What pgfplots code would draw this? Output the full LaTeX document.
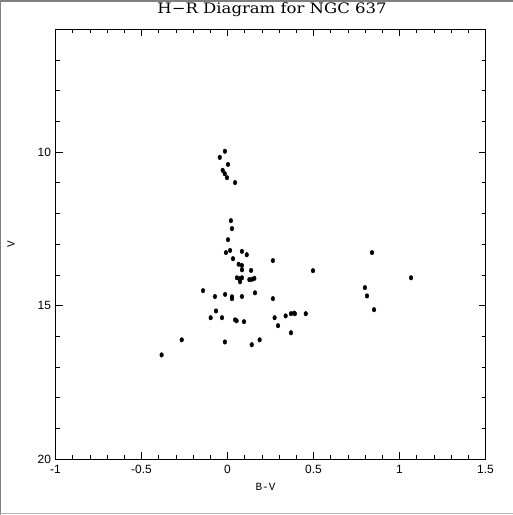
\documentclass[border=0pt]{standalone}
\usepackage{pgfplots}
\pgfplotsset{compat=1.18}
\usepackage{fontspec}
\newfontfamily\tickfont{Liberation Sans}
\newfontfamily\titlefont{DejaVu Serif}
\newfontfamily\labfont{Liberation Mono}
\begin{document}
\begin{tikzpicture}
\begin{axis}[name=ax, scale only axis, width=430bp, height=430bp,
  xmin=-1, xmax=1.5, ymin=6, ymax=20, y dir=reverse,
  xtick={-1,-0.5,0,0.5,1,1.5}, minor x tick num=4,
  ytick={10,15,20}, minor ytick={7,8,9,11,12,13,14,16,17,18,19},
  tick align=inside, major tick length=7bp, minor tick length=4bp,
  tick style={black, line width=0.8bp},
  axis line style={black, line width=1bp},
  /pgf/number format/assume math mode=true,
  ticklabel style={font=\tickfont\fontsize{12}{12}\selectfont},
  xticklabel style={yshift=-2bp},
  yticklabel style={xshift=-1bp},
  clip=false]
\addplot[only marks, mark=*, mark size=2.3pt, mark options={xscale=0.8, fill=black, draw=black}] coordinates {
(-0.015,9.97) (-0.045,10.17) (0.003,10.40) (-0.028,10.59) (-0.016,10.70)
(-0.003,10.83) (0.044,10.99) (0.020,12.23) (0.026,12.49) (0.003,12.85)
(-0.009,13.27) (0.015,13.20) (0.084,13.23) (0.112,13.34) (0.032,13.47)
(0.065,13.65) (0.084,13.69) (0.084,13.83) (0.137,13.85) (0.055,14.09)
(0.071,14.12) (0.084,14.09) (0.073,14.22) (0.127,14.15) (0.142,14.14)
(0.156,14.11) (0.160,14.58) (-0.142,14.51) (-0.073,14.70) (-0.014,14.63)
(0.026,14.71) (0.026,14.77) (0.084,14.70) (0.264,14.77) (-0.067,15.17)
(-0.098,15.39) (-0.032,15.39) (0.044,15.46) (0.053,15.49) (0.096,15.52)
(0.274,15.39) (0.294,15.65) (0.338,15.33) (0.369,15.26) (0.387,15.24)
(0.392,15.26) (0.455,15.26) (0.369,15.88) (-0.266,16.11) (-0.015,16.18)
(0.141,16.27) (0.187,16.11) (-0.383,16.60) (0.840,13.27) (0.264,13.53)
(0.497,13.86) (1.067,14.09) (0.799,14.41) (0.811,14.68) (0.852,15.13)
};
\end{axis}
\node[font=\titlefont\fontsize{14.5}{14.5}\selectfont, inner sep=0pt, xscale=1.14] at ([xshift=1.5bp,yshift=20bp]ax.north) {H\textminus R Diagram for NGC 637};
\node[font=\labfont\fontsize{11}{11}\selectfont, inner sep=0pt] at ([xshift=-5bp,yshift=-28bp]ax.south) {B-V};
\node[font=\labfont\fontsize{11}{11}\selectfont, inner sep=0pt, rotate=90] at ([xshift=-44.5bp]ax.west) {V};
\pgfresetboundingbox
\path ([shift={(-55.5bp,-55.7bp)}]ax.south west) coordinate (bl) rectangle ([shift={(27.5bp,29.3bp)}]ax.north east) coordinate (tr);
\fill[gray] (bl |- tr) rectangle ([yshift=-2bp]tr);
\fill[gray] (bl) rectangle ([xshift=1.3bp]bl |- tr);
\fill[gray!60] ([yshift=1bp]bl) rectangle ([yshift=2.2bp]bl -| tr);
\end{tikzpicture}
\end{document}
